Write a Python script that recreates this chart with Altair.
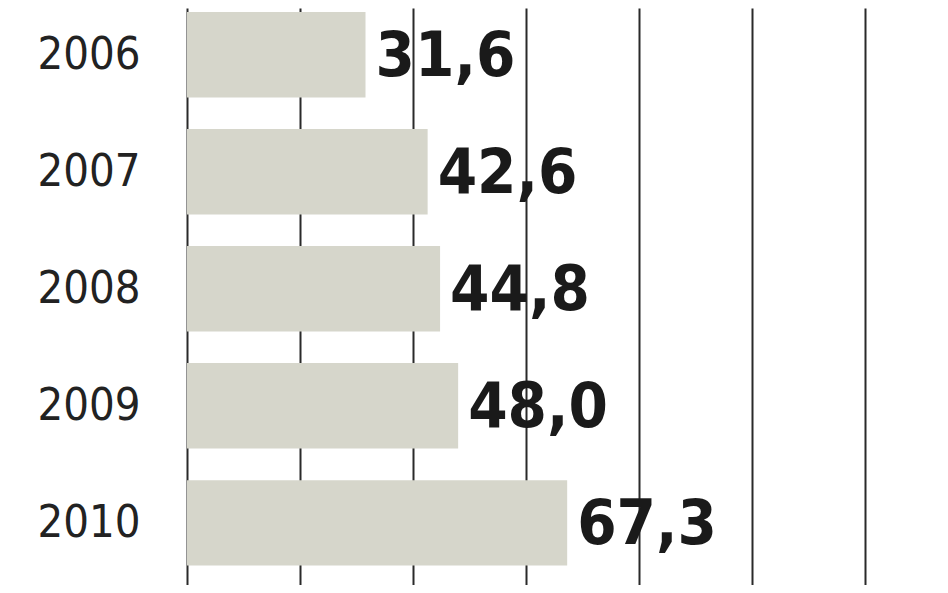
import altair as alt
import pandas as pd

years = ["2006", "2007", "2008", "2009", "2010"]
values = [31.6, 42.6, 44.8, 48.0, 67.3]
labels = ["31,6", "42,6", "44,8", "48,0", "67,3"]
grid_ticks = [0, 20, 40, 60, 80, 100, 120]

df = pd.DataFrame({"year": years, "value": values, "label": labels})

FONT = "DejaVu Sans Condensed, Roboto, sans-serif"

x = alt.X("value:Q",
          scale=alt.Scale(domain=[0, 133.3], nice=False, zero=True),
          axis=alt.Axis(values=grid_ticks, labels=False, ticks=False, domain=False,
                        grid=True, gridColor="#2a2a2a", gridWidth=2, gridOpacity=1,
                        title=None))
y = alt.Y("year:N", sort=years,
          scale=alt.Scale(paddingInner=0.27, paddingOuter=0.1, align=0.17),
          axis=alt.Axis(title=None, domain=False, ticks=False, grid=False,
                        labelFont=FONT, labelFontSize=45,
                        labelColor="#222222", labelPadding=47,
                        labelFontWeight="normal"))

bars = alt.Chart(df).mark_bar(color="#d6d6cb").encode(x=x, y=y)
text = alt.Chart(df).mark_text(
    align="left", baseline="middle", dx=10, dy=2,
    font=FONT, fontSize=63, fontWeight="bold", color="#1a1a1a"
).encode(x=alt.X("value:Q"), y=alt.Y("year:N", sort=years), text="label:N")

chart = (bars + text).properties(
    width=753, height=577,
    background="white",
    autosize=alt.AutoSizeParams(type="none"),
    padding={"left": 179, "right": 0, "top": 0, "bottom": 0},
).configure_view(strokeWidth=0, stroke="transparent")

chart.save("out.html", embed_options={"renderer": "svg", "actions": False})
